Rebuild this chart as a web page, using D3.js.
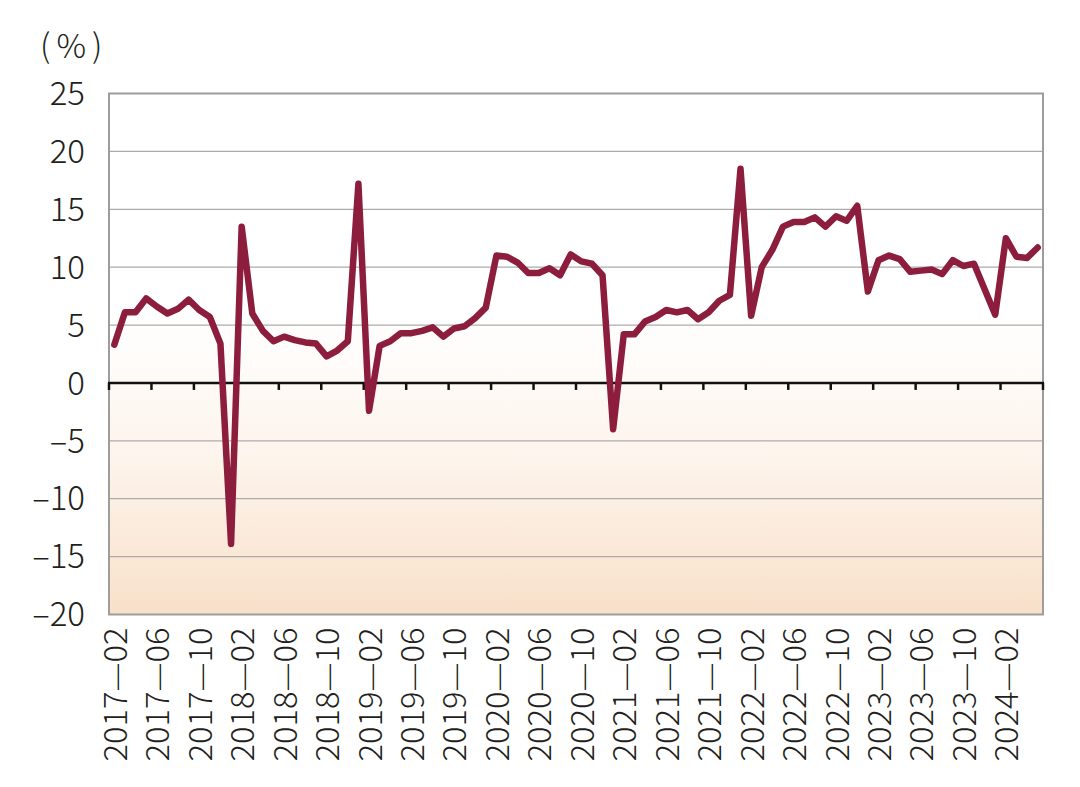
<!DOCTYPE html>
<html>
<head>
<meta charset="utf-8">
<script src="https://cdn.jsdelivr.net/npm/d3@7"></script>
<style>
  html, body { margin: 0; padding: 0; background: #ffffff; }
  svg { display: block; }
  text { font-family: "Noto Sans CJK SC", "Noto Sans", sans-serif; font-weight: 300; fill: #231f20; }
</style>
</head>
<body>
<svg id="chart" width="1080" height="787"></svg>
<script>
// ---- Data ----
const months = [
  "2017-02","2017-03","2017-04","2017-05","2017-06","2017-07","2017-08","2017-09","2017-10","2017-11","2017-12",
  "2018-01","2018-02","2018-03","2018-04","2018-05","2018-06","2018-07","2018-08","2018-09","2018-10","2018-11","2018-12",
  "2019-01","2019-02","2019-03","2019-04","2019-05","2019-06","2019-07","2019-08","2019-09","2019-10","2019-11","2019-12",
  "2020-01","2020-02","2020-03","2020-04","2020-05","2020-06","2020-07","2020-08","2020-09","2020-10","2020-11","2020-12",
  "2021-01","2021-02","2021-03","2021-04","2021-05","2021-06","2021-07","2021-08","2021-09","2021-10","2021-11","2021-12",
  "2022-01","2022-02","2022-03","2022-04","2022-05","2022-06","2022-07","2022-08","2022-09","2022-10","2022-11","2022-12",
  "2023-01","2023-02","2023-03","2023-04","2023-05","2023-06","2023-07","2023-08","2023-09","2023-10","2023-11","2023-12",
  "2024-01","2024-02","2024-03","2024-04","2024-05"
];
const values = [
  3.3, 6.1, 6.1, 7.3, 6.6, 6.0, 6.4, 7.2, 6.3, 5.7, 3.4,
  -13.9, 13.5, 6.0, 4.5, 3.6, 4.0, 3.7, 3.5, 3.4, 2.3, 2.8, 3.6,
  17.2, -2.4, 3.2, 3.6, 4.3, 4.3, 4.5, 4.8, 4.0, 4.7, 4.9, 5.6,
  6.5, 11.0, 10.9, 10.4, 9.5, 9.5, 9.9, 9.3, 11.1, 10.5, 10.3,
  9.3, -4.0, 4.2, 4.2, 5.3, 5.7, 6.3, 6.1, 6.3, 5.5, 6.1, 7.1,
  7.6, 18.5, 5.8, 10.0, 11.5, 13.5, 13.9, 13.9, 14.3, 13.5, 14.4,
  14.0, 15.3, 7.9, 10.6, 11.0, 10.7, 9.6, 9.7, 9.8, 9.4, 10.6,
  10.1, 10.3, 8.1, 5.9, 12.5, 10.9, 10.8, 11.7
];
const xTickMonths = ["2017-02","2017-06","2017-10","2018-02","2018-06","2018-10","2019-02","2019-06","2019-10",
  "2020-02","2020-06","2020-10","2021-02","2021-06","2021-10","2022-02","2022-06","2022-10",
  "2023-02","2023-06","2023-10","2024-02"];
const xTickLabels = ["2017—02","2017—06","2017—10","2018—02","2018—06","2018—10","2019—02","2019—06","2019—10",
  "2020—02","2020—06","2020—10","2021—02","2021—06","2021—10","2022—02","2022—06","2022—10",
  "2023—02","2023—06","2023—10","2024—02"];
const yTicks = [-20, -15, -10, -5, 0, 5, 10, 15, 20, 25];
const yTickLabels = ["–20","–15","–10","–5","0","5","10","15","20","25"];
const unitLabel = "(%)";

// ---- Layout ----
const L = 109, R = 1043, T = 93.5, B = 614.5;
const svg = d3.select("#chart");

const x = d3.scaleBand().domain(months).range([L, R]).paddingInner(0).paddingOuter(0);
const bw = x.bandwidth();
const y = d3.scaleLinear().domain([-20, 25]).range([B, T]);

// background gradient
const defs = svg.append("defs");
const grad = defs.append("linearGradient").attr("id", "bg").attr("x1", 0).attr("y1", 0).attr("x2", 0).attr("y2", 1);
grad.append("stop").attr("offset", "0").attr("stop-color", "#ffffff");
grad.append("stop").attr("offset", "0.42").attr("stop-color", "#ffffff");
grad.append("stop").attr("offset", "0.7").attr("stop-color", "#fdf4ec");
grad.append("stop").attr("offset", "1").attr("stop-color", "#f8e0c9");

svg.append("rect").attr("x", L).attr("y", T).attr("width", R - L).attr("height", B - T).attr("fill", "url(#bg)");

// gridlines
svg.append("g").selectAll("line").data(yTicks.filter(v => v !== 0 && v !== 25 && v !== -20)).join("line")
  .attr("x1", L).attr("x2", R).attr("y1", d => y(d)).attr("y2", d => y(d))
  .attr("stroke", "#ababab").attr("stroke-width", 1.3);

// border
svg.append("rect").attr("x", L).attr("y", T).attr("width", R - L).attr("height", B - T)
  .attr("fill", "none").attr("stroke", "#9d9d9d").attr("stroke-width", 2);

// y axis labels
const yAxis = d3.axisLeft(y).tickValues(yTicks).tickSize(0).tickPadding(0)
  .tickFormat((d, i) => yTickLabels[i]);
const gy = svg.append("g").attr("transform", `translate(${L - 24},0)`).call(yAxis);
gy.select(".domain").remove();
gy.selectAll("text").attr("font-size", 33).attr("dy", "0.34em").attr("fill", "#231f20")
  .attr("font-family", "\"Noto Sans CJK SC\", \"Noto Sans\", sans-serif").attr("font-weight", 300);

svg.append("text").attr("x", 40).attr("y", 58).attr("font-size", 33).attr("letter-spacing", 6).text(unitLabel);

// zero axis with ticks
const tickPos = xTickMonths.map(m => x(m)).concat([R]);
svg.append("line").attr("x1", L - 1).attr("x2", R + 1).attr("y1", y(0)).attr("y2", y(0))
  .attr("stroke", "#111").attr("stroke-width", 2.5);
svg.append("g").selectAll("line").data(tickPos).join("line")
  .attr("x1", d => d).attr("x2", d => d).attr("y1", y(0)).attr("y2", y(0) + 7)
  .attr("stroke", "#111").attr("stroke-width", 2.5);

// x labels (rotated)
svg.append("g").selectAll("text").data(xTickMonths).join("text")
  .attr("transform", d => `translate(${x(d) + bw / 2 + 1},${B + 13}) rotate(-90)`)
  .attr("text-anchor", "end").attr("dy", "0.36em").attr("font-size", 32)
  .attr("textLength", 134).attr("lengthAdjust", "spacingAndGlyphs")
  .text((d, i) => xTickLabels[i]);

// line
const line = d3.line().x((d, i) => x(months[i]) + bw / 2).y(d => y(d));
svg.append("path").datum(values).attr("d", line)
  .attr("fill", "none").attr("stroke", "#8c1d3d").attr("stroke-width", 6.5)
  .attr("stroke-linejoin", "round").attr("stroke-linecap", "round");
</script>
</body>
</html>
